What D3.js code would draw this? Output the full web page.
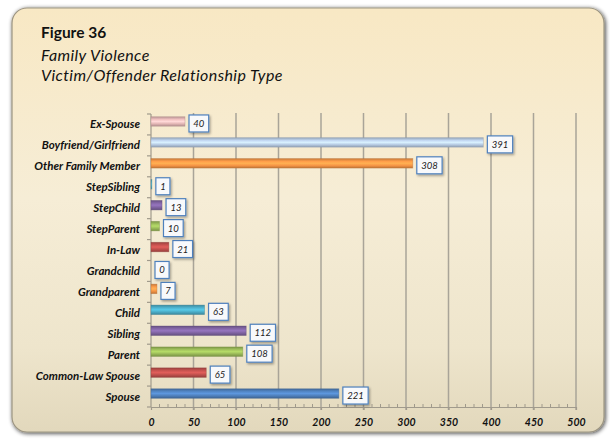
<!DOCTYPE html>
<html>
<head>
<meta charset="utf-8">
<script src="https://cdn.jsdelivr.net/npm/d3@7"></script>
<style>
  html, body { margin: 0; padding: 0; background: #ffffff; }
  svg { display: block; }
  text { font-family: Lato, "Open Sans", "Liberation Sans", sans-serif; }
</style>
</head>
<body>
<div id="chart"></div>
<script>
// Relationship categories, listed from the bottom bar upward
const categories = [
  "Spouse", "Common-Law Spouse", "Parent", "Sibling", "Child", "Grandparent",
  "Grandchild", "In-Law", "StepParent", "StepChild", "StepSibling",
  "Other Family Member", "Boyfriend/Girlfriend", "Ex-Spouse"
];
const values = [221, 65, 108, 112, 63, 7, 0, 21, 10, 13, 1, 308, 391, 40];
const barColors = [
  "#4F81BD", "#C0504D", "#9BBB59", "#8064A2", "#4BACC6", "#F79646",
  "#4F81BD", "#C0504D", "#9BBB59", "#8064A2", "#4BACC6", "#F79646",
  "#B9CDE5", "#E6B9B8"
];
const xTicks = [0, 50, 100, 150, 200, 250, 300, 350, 400, 450, 500];
const titleLines = ["Figure 36", "Family Violence", "Victim/Offender Relationship Type"];

const W = 610, H = 439;
const svg = d3.select("#chart").append("svg").attr("width", W).attr("height", H);
const defs = svg.append("defs");

// Panel background and soft edge shadow
const bg = defs.append("linearGradient").attr("id", "panelFill")
  .attr("x1", 0).attr("y1", 0).attr("x2", 0).attr("y2", 1);
bg.append("stop").attr("offset", "0%").attr("stop-color", "#F8E8C4");
bg.append("stop").attr("offset", "45%").attr("stop-color", "#F6EDD6");
bg.append("stop").attr("offset", "80%").attr("stop-color", "#EEE5CC");
bg.append("stop").attr("offset", "100%").attr("stop-color", "#E2D8BC");

const sh = defs.append("filter").attr("id", "panelShadow")
  .attr("x", "-5%").attr("y", "-5%").attr("width", "110%").attr("height", "110%");
sh.append("feGaussianBlur").attr("in", "SourceAlpha").attr("stdDeviation", 2.2).attr("result", "b");
sh.append("feOffset").attr("in", "b").attr("dx", 1).attr("dy", 1).attr("result", "o");
sh.append("feComponentTransfer").attr("in", "o").attr("result", "s")
  .append("feFuncA").attr("type", "linear").attr("slope", 0.75);
const shm = sh.append("feMerge");
shm.append("feMergeNode").attr("in", "s");
shm.append("feMergeNode").attr("in", "SourceGraphic");

svg.append("rect")
  .attr("x", 12).attr("y", 8).attr("width", 592).attr("height", 424)
  .attr("rx", 15).attr("ry", 15)
  .attr("fill", "url(#panelFill)")
  .attr("stroke", "#9C9582").attr("stroke-width", 1.2)
  .attr("filter", "url(#panelShadow)");

// Title block
const title = svg.append("g").attr("fill", "#111");
title.append("text").attr("x", 41).attr("y", 38)
  .attr("font-size", 15.5).attr("font-weight", "bold").text(titleLines[0]);
title.append("text").attr("x", 41).attr("y", 61)
  .attr("font-size", 16).attr("font-style", "italic").attr("letter-spacing", 0.4)
  .text(titleLines[1]);
title.append("text").attr("x", 41).attr("y", 81)
  .attr("font-size", 16).attr("font-style", "italic").attr("letter-spacing", 0.4)
  .text(titleLines[2]);

// Scales
const plotLeft = 151, plotRight = 576, plotTop = 114, plotBottom = 407;
const x = d3.scaleLinear().domain([0, 500]).range([plotLeft, plotRight]);
const y = d3.scaleBand().domain(categories.slice().reverse()).range([plotTop, plotBottom]);
const rows = categories.map((c, i) => ({ cat: c, v: values[i], color: barColors[i] }));

// Vertical gridlines
svg.append("g").selectAll("line").data(xTicks.slice(1)).join("line")
  .attr("x1", d => x(d)).attr("x2", d => x(d))
  .attr("y1", plotTop - 1).attr("y2", plotBottom + 3)
  .attr("stroke", "#A9A498").attr("stroke-width", 1.5);

// X axis with minor ticks every 10
const minor = d3.range(0, 501, 10).filter(d => d % 50 !== 0);
svg.append("g").selectAll("line").data(minor).join("line")
  .attr("x1", d => x(d)).attr("x2", d => x(d))
  .attr("y1", plotBottom - 3).attr("y2", plotBottom)
  .attr("stroke", "#A09A8C").attr("stroke-width", 1);
const xAxis = svg.append("g").attr("transform", `translate(0,${plotBottom})`)
  .call(d3.axisBottom(x).tickValues(xTicks).tickSize(3).tickSizeOuter(0).tickPadding(9));
xAxis.select(".domain").attr("stroke", "#A09A8C").attr("stroke-width", 1.2);
xAxis.selectAll(".tick line").attr("stroke", "#A09A8C").attr("stroke-width", 1.2);
xAxis.selectAll(".tick text")
  .attr("font-family", "Lato, sans-serif").attr("font-size", 10.5)
  .attr("font-weight", "bold").attr("font-style", "italic").attr("fill", "#111");

// Y axis: line with ticks at category boundaries
svg.append("line").attr("x1", plotLeft).attr("x2", plotLeft)
  .attr("y1", plotTop).attr("y2", plotBottom)
  .attr("stroke", "#A09A8C").attr("stroke-width", 1.2);
const bounds = d3.range(categories.length + 1).map(i => plotTop + i * y.step());
svg.append("g").selectAll("line").data(bounds).join("line")
  .attr("x1", plotLeft - 4).attr("x2", plotLeft)
  .attr("y1", d => d).attr("y2", d => d)
  .attr("stroke", "#A09A8C").attr("stroke-width", 1.2);

svg.append("g").selectAll("text").data(categories).join("text")
  .attr("x", plotLeft - 11)
  .attr("y", d => y(d) + y.bandwidth() / 2 + 4)
  .attr("text-anchor", "end")
  .attr("font-size", 11.5).attr("font-weight", "bold").attr("font-style", "italic")
  .attr("fill", "#111")
  .text(d => d);

// Bars: rounded-tube shading built from each series colour
const barH = 9.5, barShift = -3;
rows.forEach((r, i) => {
  const c = d3.color(r.color);
  const g = defs.append("linearGradient").attr("id", "bar" + i)
    .attr("x1", 0).attr("y1", 0).attr("x2", 0).attr("y2", 1);
  g.append("stop").attr("offset", "0%").attr("stop-color", c.darker(0.6));
  g.append("stop").attr("offset", "30%").attr("stop-color", c.brighter(0.15));
  g.append("stop").attr("offset", "50%").attr("stop-color", c.brighter(0.45));
  g.append("stop").attr("offset", "72%").attr("stop-color", c);
  g.append("stop").attr("offset", "100%").attr("stop-color", c.darker(0.7));
});

svg.append("g").selectAll("rect").data(rows).join("rect")
  .attr("x", x(0))
  .attr("y", d => y(d.cat) + y.bandwidth() / 2 + barShift - barH / 2)
  .attr("width", d => x(d.v) - x(0))
  .attr("height", barH)
  .attr("fill", (d, i) => `url(#bar${i})`)
  .attr("stroke", d => d.v > 0 ? d3.color(d.color).darker(0.8).copy({ opacity: 0.45 }) : "none")
  .attr("stroke-width", 0.8);

// Value callouts
const lblShadow = defs.append("filter").attr("id", "lblShadow")
  .attr("x", "-20%").attr("y", "-20%").attr("width", "150%").attr("height", "160%");
lblShadow.append("feDropShadow").attr("dx", 1.2).attr("dy", 1.5)
  .attr("stdDeviation", 0.9).attr("flood-color", "#000").attr("flood-opacity", 0.35);

const labels = svg.append("g").selectAll("g").data(rows).join("g")
  .attr("transform", d => `translate(${x(d.v) + 4},${y(d.cat) + y.bandwidth() / 2 - 1})`);
labels.append("rect")
  .attr("x", 0).attr("y", -8.5)
  .attr("width", d => String(d.v).length * 5.6 + 8.5)
  .attr("height", 17)
  .attr("fill", "#F8F9FB").attr("stroke", "#4F81BD").attr("stroke-width", 1.2)
  .attr("filter", "url(#lblShadow)");
labels.append("text")
  .attr("x", d => (String(d.v).length * 5.6 + 8.5) / 2)
  .attr("y", 3.5)
  .attr("text-anchor", "middle")
  .attr("font-size", 9.5).attr("font-style", "italic").attr("fill", "#222")
  .text(d => d.v);
</script>
</body>
</html>
